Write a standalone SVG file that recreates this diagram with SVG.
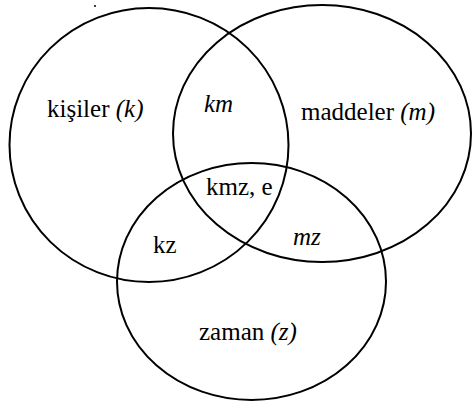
<svg xmlns="http://www.w3.org/2000/svg" width="473" height="408" viewBox="0 0 473 408">
<style>
.c{fill:none;stroke:#000;stroke-width:2}
.t{font-family:'Liberation Serif','DejaVu Serif',serif;font-size:25px;fill:#000}
.i{font-style:italic}
</style>
<rect width="473" height="408" fill="#fff"/>
<g id="circle-k"><ellipse class="c" cx="149" cy="145" rx="139.5" ry="137"/></g>
<g id="circle-m"><ellipse class="c" cx="322" cy="133.5" rx="149" ry="128.5"/></g>
<g id="circle-z"><ellipse class="c" cx="251.5" cy="281.5" rx="134.5" ry="118.5"/></g>
<g id="labels" font-family="Liberation Serif" font-size="25">
<text class="t" x="47" y="117">kişiler <tspan class="i">(k)</tspan></text>
<text class="t i" x="204" y="112">km</text>
<text class="t" x="301" y="120">maddeler <tspan class="i">(m)</tspan></text>
<text class="t" x="206" y="195">kmz, e</text>
<text class="t" x="153" y="253">kz</text>
<text class="t i" x="293" y="245">mz</text>
<text class="t" x="199" y="340">zaman <tspan class="i">(z)</tspan></text>
</g>
<circle cx="95" cy="6" r="1" fill="#000"/>
</svg>
